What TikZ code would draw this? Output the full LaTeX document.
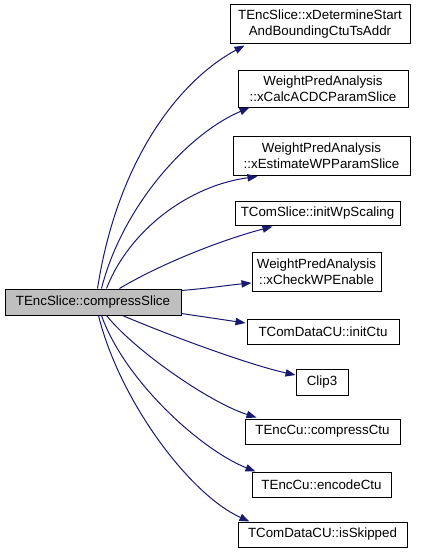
\documentclass[tikz,border=0pt]{standalone}
\usepackage{fontspec}
\setmainfont{Liberation Sans}
\usepackage{tikz}
\usetikzlibrary{arrows.meta,calc}
\definecolor{callblue}{RGB}{25,25,112}
\definecolor{fngray}{RGB}{191,191,191}

\begin{document}
\begin{tikzpicture}[x=0.75pt, y=-0.75pt,
    fnbox/.style={draw=black, line width=0.75pt, fill=white, inner sep=0pt,
        font=\fontsize{10}{12}\selectfont, align=center},
    fnsize/.style 2 args={minimum width=#1*0.75pt, minimum height=#2*0.75pt},
    call/.style={draw=callblue, line width=0.75pt,
        -{Triangle[length=7.5pt, width=5.5pt]}}]
\useasboundingbox (0,0) rectangle (421,553);

% Caller
\node[fnbox, fill=fngray, fnsize={176}{26}] (compress) at (93,302) {TEncSlice::compressSlice};

% Callees, top to bottom
\node[fnbox, fnsize={180}{39}] (xdet) at (320,24) {TEncSlice::xDetermineStart\\AndBoundingCtuTsAddr};
\node[fnbox, fnsize={170}{37}] (xcalc) at (323,88.5) {WeightPredAnalysis\\::xCalcACDCParamSlice};
\node[fnbox, fnsize={177}{39}] (xest) at (321.5,155.5) {WeightPredAnalysis\\::xEstimateWPParamSlice};
\node[fnbox, fnsize={165}{24}] (initwp) at (317.5,213) {TComSlice::initWpScaling};
\node[fnbox, fnsize={129}{39}] (xcheck) at (316.5,272) {WeightPredAnalysis\\::xCheckWPEnable};
\node[fnbox, fnsize={152}{25}] (initctu) at (323,331.5) {TComDataCU::initCtu};
\node[fnbox, fnsize={52}{26}] (clip) at (322,382) {Clip3};
\node[fnbox, fnsize={155}{25}] (cmpctu) at (322.5,431.5) {TEncCu::compressCtu};
\node[fnbox, fnsize={139}{25}] (encctu) at (321.5,484.5) {TEncCu::encodeCtu};
\node[fnbox, fnsize={169}{25}] (skipped) at (322.5,534.5) {TComDataCU::isSkipped};

% Calls leaving the top edge
\draw[call] ($(compress.north west)+(93,0)$) .. controls +(20,-129) and +(-65,35) .. ($(xdet.south west)+(15,1.5)$);
\draw[call] ($(compress.north west)+(97,0)$) .. controls +(20,-79) and +(-65,28) .. ($(xcalc.south west)+(12,0)$);
\draw[call] ($(compress.north west)+(102,0)$) .. controls +(23,-59) and +(-68,9) .. ($(xest.south west)+(25,1)$);
\draw[call] ($(compress.north west)+(115,0)$) .. controls +(40,-24) and +(-53,14) .. ($(initwp.south west)+(38,1)$);

% Calls leaving the right edge
\draw[call] ($(compress.north east)+(0,2)$) .. controls +(25,-2) and +(-22,2) .. ($(xcheck.west)+(0,11)$);
\draw[call] ($(compress.south east)+(0,-2)$) -- ($(initctu.west)+(-1,-8.5)$);

% Calls leaving the bottom edge
\draw[call] ($(compress.south west)+(118,0)$) .. controls +(47,20) and +(-46,-10) .. ($(clip.west)+(0,-7)$);
\draw[call] ($(compress.south west)+(102,0)$) .. controls +(28,35) and +(-47,-15) .. ($(cmpctu.north west)+(12,-1)$);
\draw[call] ($(compress.south west)+(97,0)$) .. controls +(23,65) and +(-55,-22) .. ($(encctu.north west)+(4,0)$);
\draw[call] ($(compress.south west)+(94,0)$) .. controls +(21,85) and +(-60,-27) .. ($(skipped.north west)+(12,0)$);
\end{tikzpicture}
\end{document}
